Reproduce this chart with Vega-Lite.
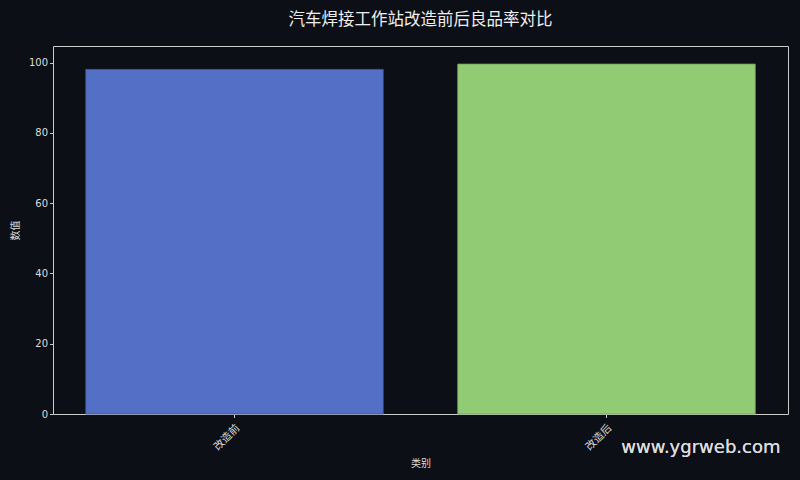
{
  "$schema": "https://vega.github.io/schema/vega-lite/v6.json",
  "width": 735,
  "height": 368,
  "autosize": {"type": "none"},
  "padding": {"left": 53, "top": 46, "right": 12, "bottom": 66},
  "background": "#0c0f16",
  "title": {
    "text": "汽车焊接工作站改造前后良品率对比",
    "font": "Noto Sans CJK SC",
    "fontSize": 16.5,
    "fontWeight": "normal",
    "color": "#eeeeee",
    "anchor": "middle",
    "offset": 18
  },
  "data": {
    "values": [
      {"类别": "改造前", "数值": 98.1},
      {"类别": "改造后", "数值": 99.6}
    ]
  },
  "layer": [
    {
      "mark": {"type": "bar", "strokeWidth": 0.8},
      "encoding": {
        "x": {
          "field": "类别",
          "type": "nominal",
          "sort": null,
          "scale": {"paddingInner": 0.2, "paddingOuter": 0.088},
          "axis": {
            "title": "类别",
            "labelAngle": -45,
            "labelPadding": 5,
            "labelFontSize": 10.5,
            "tickSize": 3.5,
            "titlePadding": 6
          }
        },
        "y": {
          "field": "数值",
          "type": "quantitative",
          "scale": {"domain": [0, 104.75], "nice": false},
          "axis": {
            "title": "数值",
            "values": [0, 20, 40, 60, 80, 100],
            "tickSize": 3.5,
            "titlePadding": 8,
            "labelFont": "DejaVu Sans"
          }
        },
        "color": {
          "field": "类别",
          "type": "nominal",
          "sort": null,
          "scale": {"range": ["#5470c6", "#91cc75"]},
          "legend": null
        },
        "stroke": {
          "field": "类别",
          "type": "nominal",
          "sort": null,
          "scale": {"range": ["#3a4f96", "#6f9f58"]},
          "legend": null
        },
        "tooltip": [
          {"field": "类别", "type": "nominal"},
          {"field": "数值", "type": "quantitative"}
        ]
      }
    },
    {
      "mark": {
        "type": "text",
        "text": "www.ygrweb.com",
        "align": "right",
        "baseline": "middle",
        "dx": 174,
        "dy": 34,
        "font": "DejaVu Sans",
        "fontSize": 18,
        "color": "#dddddd"
      },
      "encoding": {
        "x": {"datum": "改造后", "type": "nominal"},
        "y": {"datum": 0, "type": "quantitative"}
      }
    }
  ],
  "config": {
    "view": {"stroke": "#cccccc", "strokeWidth": 1},
    "axis": {
      "grid": false,
      "domain": false,
      "tickColor": "#cccccc",
      "labelColor": "#dddddd",
      "titleColor": "#dddddd",
      "labelFont": "Noto Sans CJK SC",
      "titleFont": "Noto Sans CJK SC",
      "labelFontSize": 10,
      "titleFontSize": 10,
      "titleFontWeight": "normal"
    }
  }
}
